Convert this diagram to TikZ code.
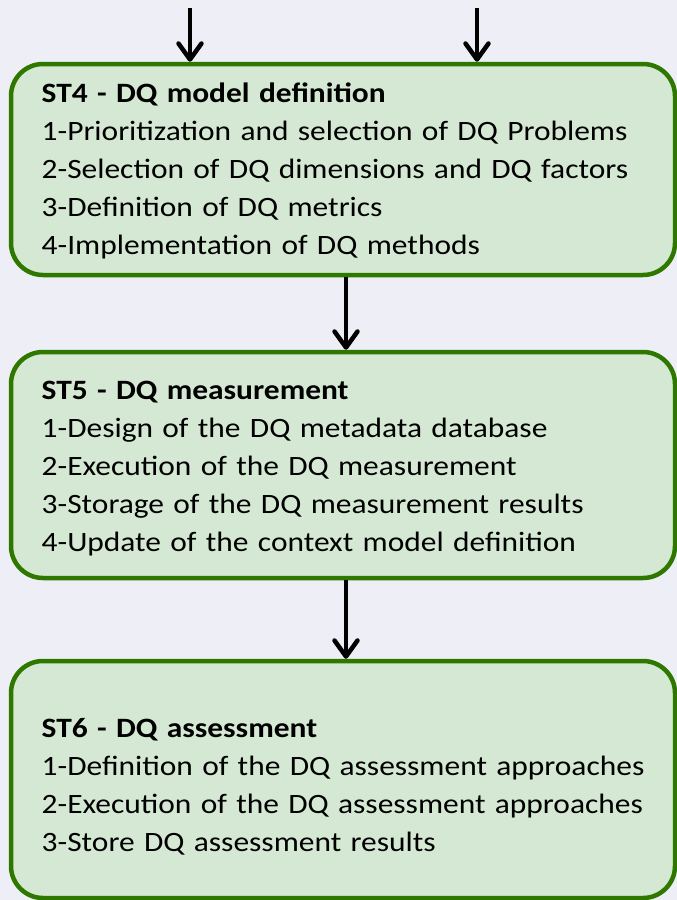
\documentclass[tikz,border=0pt]{standalone}
\usepackage{fontspec}
\setmainfont{Carlito}[FakeStretch=1.123]
\usetikzlibrary{arrows.meta}
\definecolor{bgc}{HTML}{EEEEF7}
\definecolor{boxfill}{HTML}{D5E8D4}
\definecolor{boxline}{HTML}{2E7800}
\tikzset{
  stagebox/.style={draw=boxline, fill=boxfill, line width=4.5pt, rounded corners=32pt,
    rectangle, minimum width=664pt, inner sep=0pt},
  stagetext/.style={anchor=base west, align=left, text width=640pt, inner sep=0pt,
    font=\fontsize{28}{38}\selectfont},
  arr/.style={line width=4.5pt, -{Straight Barb[length=16pt,width=23pt,round]}},
}
\begin{document}
\begin{tikzpicture}[x=1pt,y=-1pt]
\fill[bgc] (0,0) rectangle (677,900);
\useasboundingbox (0,0) rectangle (677,900);

\node[stagebox, minimum height=211pt] (box1) at (343,169.5) {};
\node[stagebox, minimum height=226pt] (box2) at (343,465) {};
\node[stagebox, minimum height=237pt] (box3) at (343,779.5) {};

\node[stagetext] (t1) at (41.5,102) {\textbf{ST4 - DQ model definition}\\
1-Prioritization and selection of DQ Problems\\
2-Selection of DQ dimensions and DQ factors\\
3-Definition of DQ metrics\\
4-Implementation of DQ methods};

\node[stagetext] (t2) at (41.5,399) {\textbf{ST5 - DQ measurement}\\
1-Design of the DQ metadata database\\
2-Execution of the DQ measurement\\
3-Storage of the DQ measurement results\\
4-Update of the context model definition};

\node[stagetext] (t3) at (41.5,737) {\textbf{ST6 - DQ assessment}\\
1-Definition of the DQ assessment approaches\\
2-Execution of the DQ assessment approaches\\
3-Store DQ assessment results};

\coordinate (s1) at (190,8);
\coordinate (s2) at (477,8);
\coordinate (mid) at (346,0);

\draw[arr] (s1) -- (s1 |- box1.north);
\draw[arr] (s2) -- (s2 |- box1.north);
\draw[arr] (box1.south -| mid) -- (box2.north -| mid);
\draw[arr] (box2.south -| mid) -- (box3.north -| mid);
\end{tikzpicture}
\end{document}
